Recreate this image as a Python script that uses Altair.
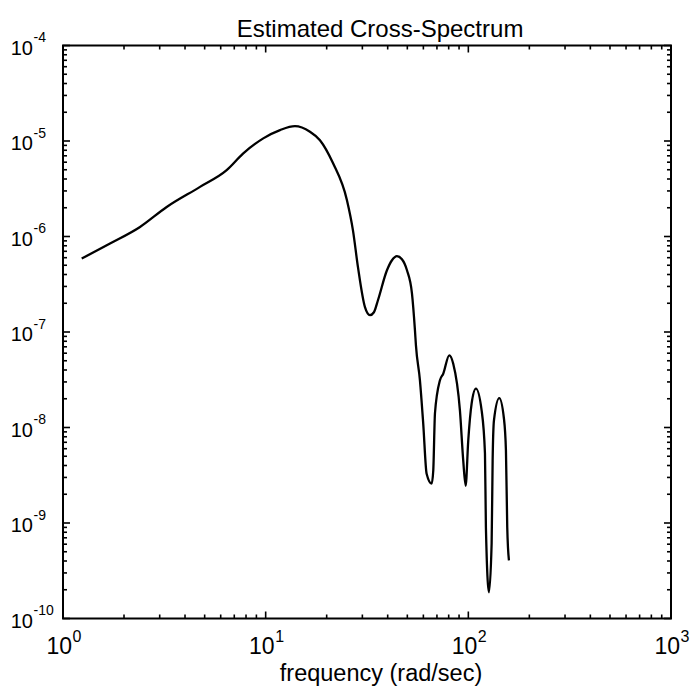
import altair as alt
import pandas as pd

# ---- data ----
freq = [1.237, 1.706, 2.399, 3.248, 4.742, 6.421, 7.753, 9.732, 11.77, 13.95,
        16.54, 18.53, 21.48, 25.18, 26.96, 28.54, 30.90, 32.70, 34.22, 35.81,
        39.67, 42.00, 44.44, 47.03, 49.80, 52.70, 54.53, 55.14, 57.70, 59.90,
        62.26, 65.92, 67.14, 68.45, 72.44, 75.20, 80.50, 84.24, 90.91, 94.38,
        96.99, 99.89, 103.8, 109.0, 116.3, 120.8, 122.1, 126.4, 130.3, 131.8,
        133.8, 142.1, 149.8, 153.3, 155.6, 158.6]
mag = [5.88e-7, 8.44e-7, 1.26e-6, 2.04e-6, 3.31e-6, 4.95e-6, 7.41e-6, 1.065e-5, 1.30e-5, 1.43e-5,
       1.25e-5, 1.02e-5, 5.87e-6, 2.40e-6, 1.16e-6, 4.77e-7, 1.82e-7, 1.50e-7, 1.61e-7, 2.15e-7,
       4.43e-7, 5.64e-7, 6.22e-7, 5.78e-7, 4.43e-7, 2.54e-7, 1.04e-7, 7.25e-8, 3.12e-8, 1.10e-8,
       3.28e-9, 2.58e-9, 3.55e-9, 1.41e-8, 3.12e-8, 3.66e-8, 5.70e-8, 4.66e-8, 1.50e-8, 4.49e-9,
       2.45e-9, 7.27e-9, 1.78e-8, 2.55e-8, 1.51e-8, 5.35e-9, 9.04e-10, 1.88e-10, 6.10e-10, 4.52e-9,
       1.19e-8, 2.03e-8, 1.25e-8, 5.75e-9, 9.04e-10, 4.05e-10]

x_decades = [1, 10, 100, 1000]
x_exps = ["0", "1", "2", "3"]
y_decades = [1e-4, 1e-5, 1e-6, 1e-7, 1e-8, 1e-9, 1e-10]
y_exps = ["-4", "-5", "-6", "-7", "-8", "-9", "-10"]
minor_mult = [2, 3, 4, 5, 6, 7, 8, 9]

title_text = "Estimated Cross-Spectrum"
xlabel_text = "frequency (rad/sec)"

# ---- layout ----
W, H = 608, 573
MAJ, MIN = 7, 4
SANS = "Liberation Sans, Arial"
TICK_COLOR = "black"

xs = alt.Scale(type="log", domain=[1, 1000], nice=False)
ys = alt.Scale(type="log", domain=[1e-10, 1e-4], nice=False)

curve_df = pd.DataFrame({"f": freq, "v": mag, "i": list(range(len(freq)))})
x_minor = [m * d for d in x_decades[:-1] for m in minor_mult]
y_minor = [m * d for d in y_decades[1:] for m in minor_mult]

xmaj_df = pd.DataFrame({"x": x_decades})
xmin_df = pd.DataFrame({"x": x_minor})
ymaj_df = pd.DataFrame({"y": y_decades})
ymin_df = pd.DataFrame({"y": y_minor})
xlab_df = pd.DataFrame({"x": x_decades, "e": x_exps, "base": ["10"] * len(x_decades)})
ylab_df = pd.DataFrame({"y": y_decades, "e": y_exps, "base": ["10"] * len(y_decades)})

line = alt.Chart(curve_df).mark_line(color="black", strokeWidth=2.3, interpolate="monotone").encode(
    x=alt.X("f:Q", scale=xs, axis=None),
    y=alt.Y("v:Q", scale=ys, axis=None),
    order="i:Q",
)

def xticks(df, length):
    base = alt.Chart(df).mark_rule(color=TICK_COLOR, strokeWidth=1.6, opacity=1)
    bottom = base.encode(x=alt.X("x:Q", scale=xs, axis=None),
                         y=alt.value(H), y2=alt.value(H - length))
    top = base.encode(x=alt.X("x:Q", scale=xs, axis=None),
                      y=alt.value(0), y2=alt.value(length))
    return [bottom, top]

def yticks(df, length):
    base = alt.Chart(df).mark_rule(color=TICK_COLOR, strokeWidth=1.6, opacity=1)
    left = base.encode(y=alt.Y("y:Q", scale=ys, axis=None),
                       x=alt.value(0), x2=alt.value(length))
    right = base.encode(y=alt.Y("y:Q", scale=ys, axis=None),
                        x=alt.value(W), x2=alt.value(W - length))
    return [left, right]

ylab_base = alt.Chart(ylab_df).mark_text(
    font=SANS, fontSize=20, align="right", baseline="alphabetic", dy=9, color="black"
).encode(y=alt.Y("y:Q", scale=ys, axis=None), x=alt.value(-30), text="base:N")
ylab_exp = alt.Chart(ylab_df).mark_text(
    font=SANS, fontSize=14, align="left", baseline="alphabetic", dy=-3.5, color="black"
).encode(y=alt.Y("y:Q", scale=ys, axis=None), x=alt.value(-29.5), text="e:N")

xlab_base = alt.Chart(xlab_df).mark_text(
    font=SANS, fontSize=23, align="right", baseline="alphabetic", dx=9, color="black"
).encode(x=alt.X("x:Q", scale=xs, axis=None), y=alt.value(608.5), text="base:N")
xlab_exp = alt.Chart(xlab_df).mark_text(
    font=SANS, fontSize=16, align="left", baseline="alphabetic", dx=9.5, color="black"
).encode(x=alt.X("x:Q", scale=xs, axis=None), y=alt.value(596.5), text="e:N")

title = alt.Chart(pd.DataFrame({"t": [title_text]})).mark_text(
    font=SANS, fontSize=24, align="center", baseline="alphabetic", color="black"
).encode(x=alt.value(317), y=alt.value(-8.5), text="t:N")
xtitle = alt.Chart(pd.DataFrame({"t": [xlabel_text]})).mark_text(
    font=SANS, fontSize=23.5, align="center", baseline="alphabetic", color="black"
).encode(x=alt.value(318), y=alt.value(635.5), text="t:N")

layers = [line] + xticks(xmaj_df, MAJ) + xticks(xmin_df, MIN) + yticks(ymaj_df, MAJ) + yticks(ymin_df, MIN) \
    + [ylab_base, ylab_exp, xlab_base, xlab_exp, title, xtitle]

chart = alt.layer(*layers).properties(
    width=W, height=H,
    autosize=alt.AutoSizeParams(type="none"),
    padding={"left": 63, "top": 45.5, "right": 20, "bottom": 71.5},
    background="white",
).configure_view(stroke="black", strokeWidth=2)

chart.save("out.html", embed_options={"renderer": "svg", "actions": False})
